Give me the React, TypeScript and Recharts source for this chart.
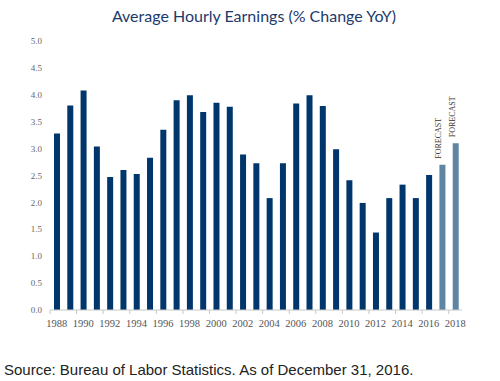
import { BarChart, Bar, XAxis, YAxis, Cell, LabelList } from 'recharts';

const years = [
  '1988', '1989', '1990', '1991', '1992', '1993', '1994', '1995', '1996', '1997', '1998',
  '1999', '2000', '2001', '2002', '2003', '2004', '2005', '2006', '2007', '2008', '2009',
  '2010', '2011', '2012', '2013', '2014', '2015', '2016', '2017', '2018',
];
const earnings = [
  3.28, 3.8, 4.08, 3.04, 2.47, 2.6, 2.53, 2.83, 3.35, 3.9, 3.99, 3.68, 3.85, 3.78, 2.89,
  2.73, 2.08, 2.73, 3.84, 3.99, 3.79, 2.99, 2.41, 1.99, 1.44, 2.08, 2.33, 2.08, 2.51, 2.7, 3.1,
];
const forecastYears = ['2017', '2018'];
const yTicks = [0, 0.5, 1, 1.5, 2, 2.5, 3, 3.5, 4, 4.5, 5];

const data = years.map((year, i) => ({
  year,
  value: earnings[i],
  forecast: forecastYears.includes(year),
}));

const CHART_W = 500;
const MARGIN_L = 0;
const MARGIN_R = 38;
const Y_W = 50;
const BAND = (CHART_W - MARGIN_L - MARGIN_R - Y_W) / years.length;

const NAVY = '#00366b';
const STEEL = '#5e86a4';

// year label plus a small tick at the left edge of the category band
function YearTick(props: any) {
  const { x, y, payload } = props;
  return (
    <g>
      <line x1={x - BAND / 2} x2={x - BAND / 2} y1={y - 8} y2={y - 4} stroke="#c8c8c8" />
      <text
        x={x}
        y={y + 9}
        textAnchor="middle"
        fontFamily="'Liberation Serif', serif"
        fontSize={10.5}
        fill="#555"
      >
        {payload.value}
      </text>
    </g>
  );
}

function ForecastLabel(props: any) {
  const { x, y, width, index } = props;
  if (!data[index].forecast) return null;
  const cx = x + width / 2 - 3;
  const cy = y - 6;
  return (
    <text
      x={cx}
      y={cy}
      transform={`rotate(-90 ${cx} ${cy})`}
      textAnchor="start"
      fontFamily="'Liberation Serif', serif"
      fontSize={8}
      fill="#333"
      dominantBaseline="middle"
    >
      FORECAST
    </text>
  );
}

export default function App() {
  return (
    <div style={{ position: 'absolute', left: 0, top: 0, width: 500, height: 381, background: '#fff' }}>
      <div
        style={{
          position: 'absolute',
          left: 0,
          top: 6,
          width: 508,
          textAlign: 'center',
          fontFamily: "Lato, sans-serif",
          fontSize: 16,
          color: '#1d3a6b',
        }}
      >
        Average Hourly Earnings (% Change YoY)
      </div>
      <div style={{ position: 'absolute', left: 0, top: 0 }}>
        <BarChart
          width={CHART_W}
          height={350}
          data={data}
          margin={{ top: 41, right: MARGIN_R, left: MARGIN_L, bottom: 10 }}
        >
          <XAxis
            dataKey="year"
            interval={1}
            tickLine={false}
            axisLine={{ stroke: '#c8c8c8' }}
            tick={<YearTick />}
          />
          <YAxis
            width={Y_W}
            domain={[0, 5]}
            ticks={yTicks}
            tickFormatter={(v: number) => v.toFixed(1)}
            axisLine={false}
            tickLine={false}
            tick={{ fontSize: 9, fill: '#666', fontFamily: "'Liberation Serif', serif" }}
          />
          <Bar dataKey="value" barSize={6} isAnimationActive={false}>
            {data.map((d) => (
              <Cell key={d.year} fill={d.forecast ? STEEL : NAVY} />
            ))}
            <LabelList dataKey="value" content={<ForecastLabel />} />
          </Bar>
        </BarChart>
      </div>
      <div
        style={{
          position: 'absolute',
          left: 4,
          top: 361,
          fontFamily: "'Liberation Sans', Arial, sans-serif",
          fontSize: 15,
          color: '#222',
        }}
      >
        Source: Bureau of Labor Statistics. As of December 31, 2016.
      </div>
    </div>
  );
}
